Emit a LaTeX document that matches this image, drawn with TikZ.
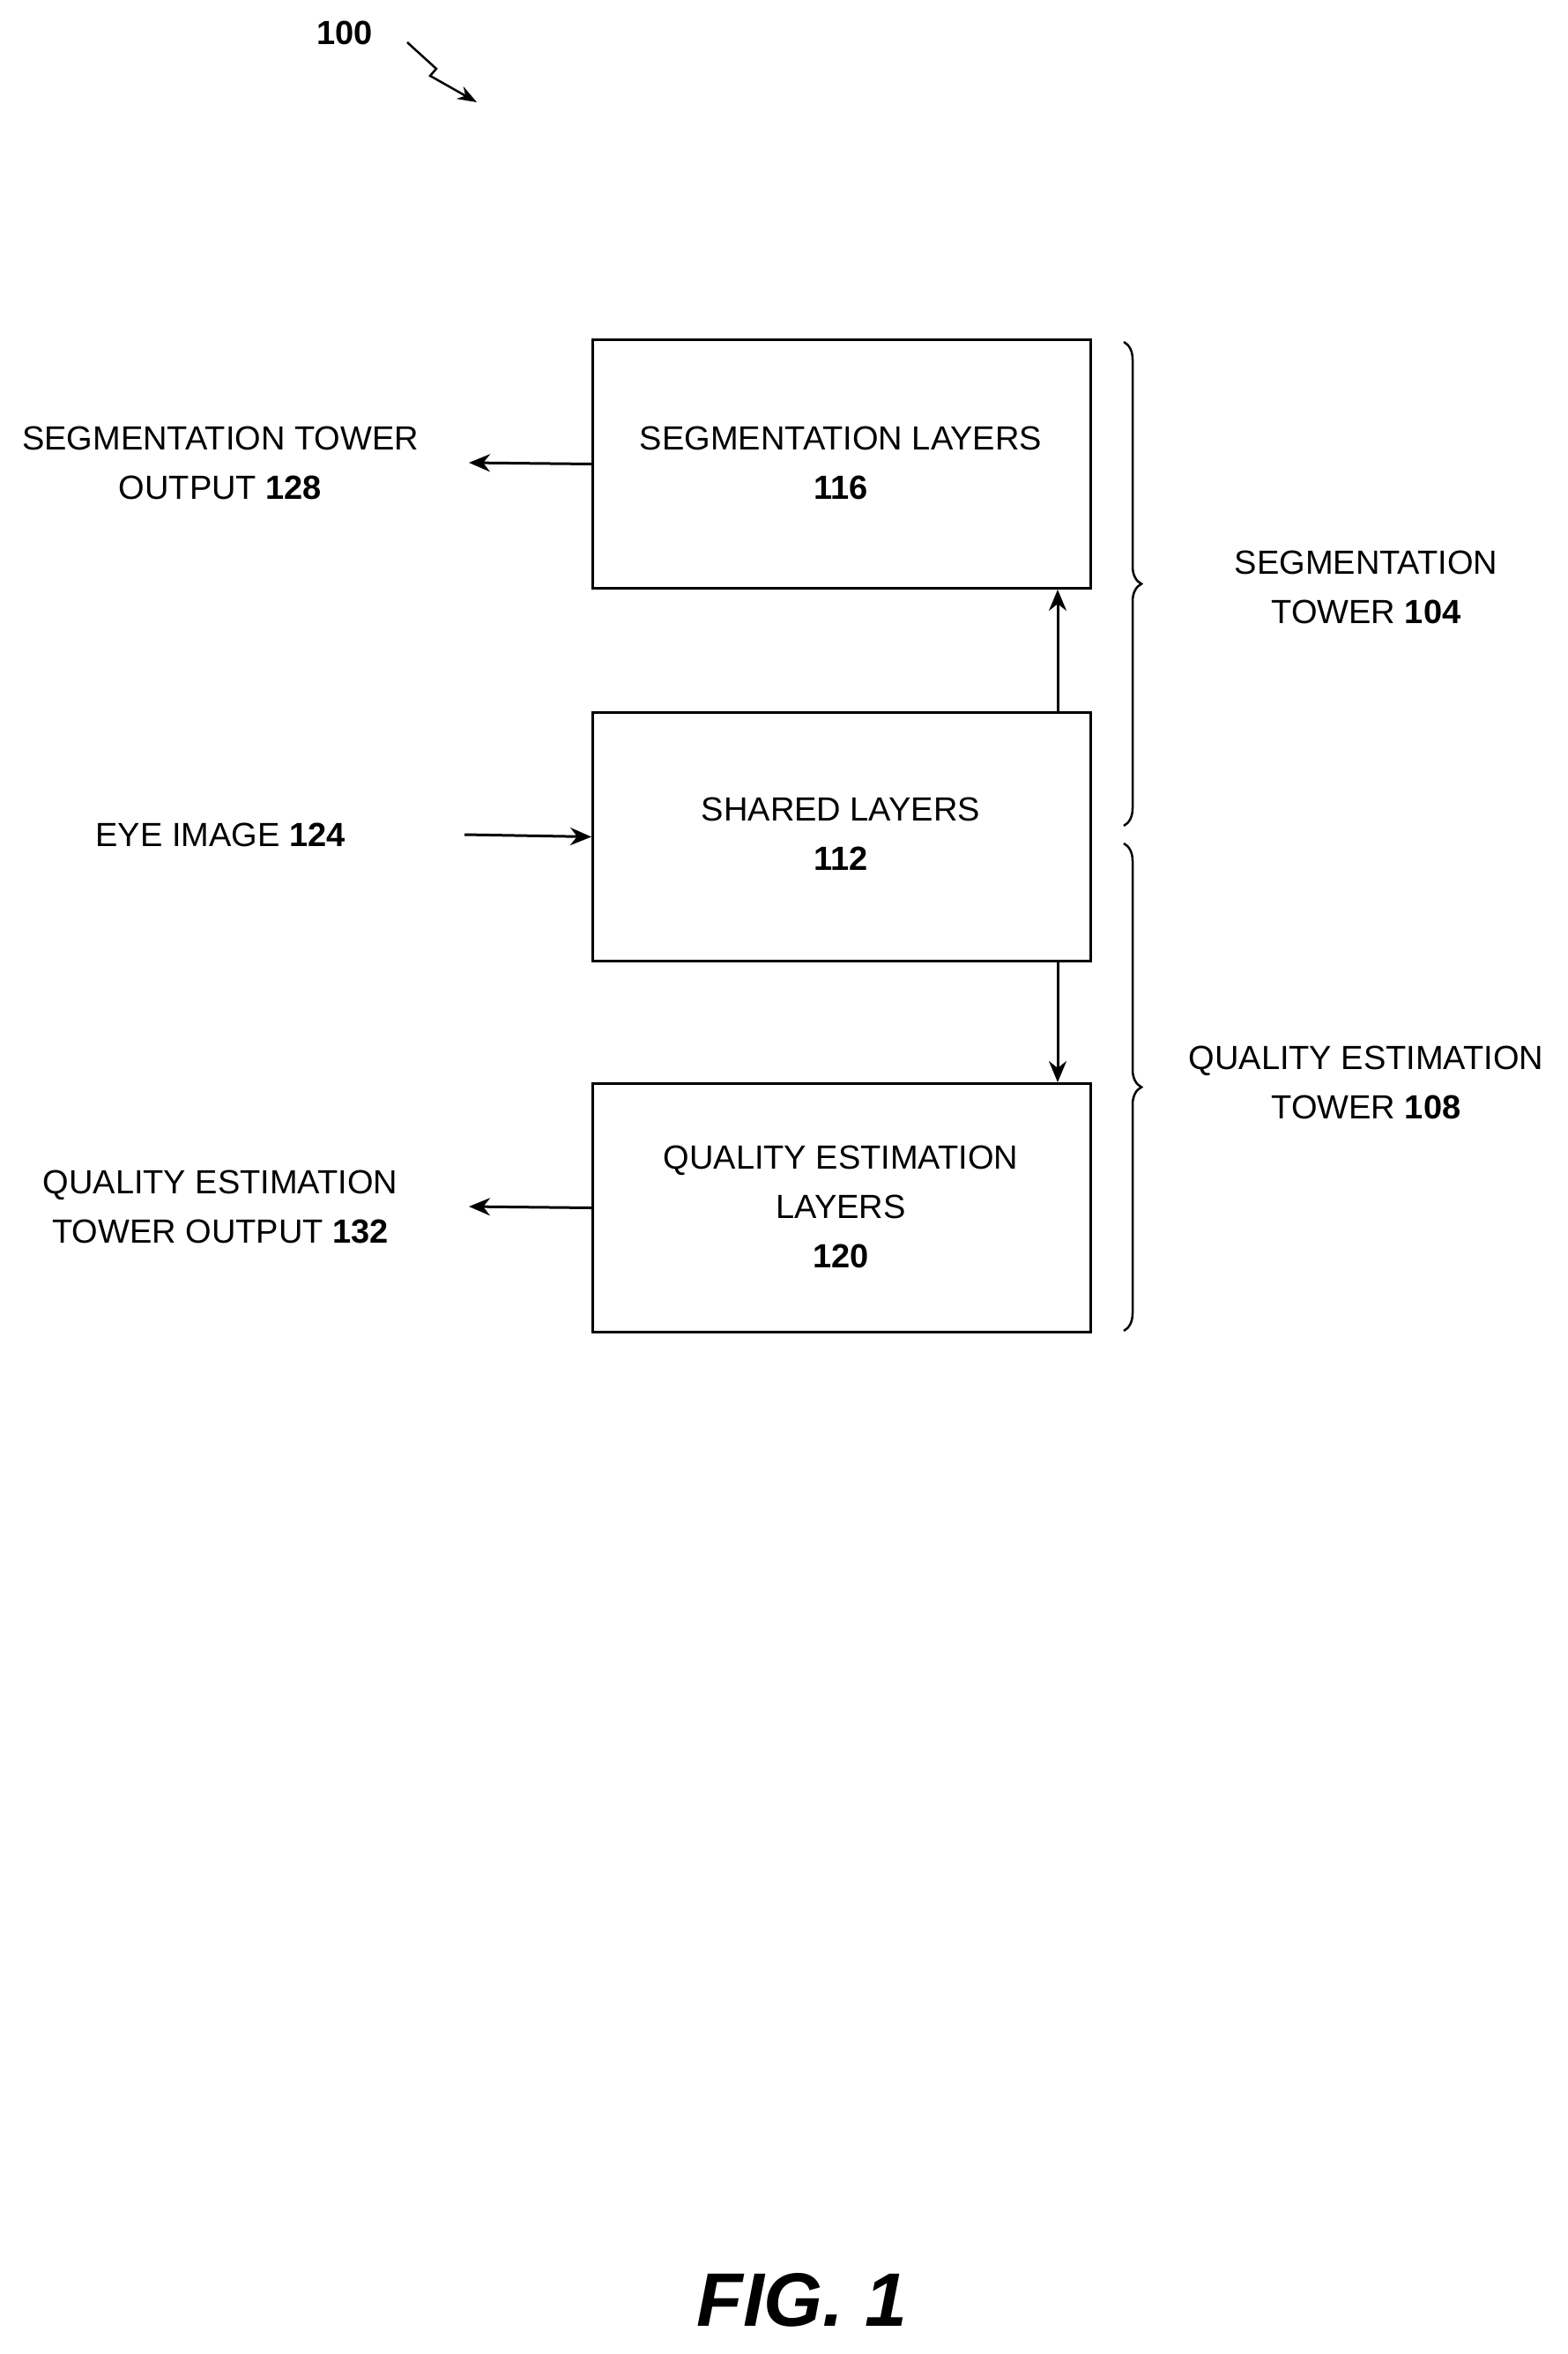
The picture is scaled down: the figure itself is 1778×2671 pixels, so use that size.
\documentclass[tikz,border=0pt]{standalone}
\usepackage{fontspec}
\setmainfont{Liberation Sans}
\usetikzlibrary{decorations.pathreplacing,arrows.meta}
\begin{document}
\begin{tikzpicture}[x=1pt,y=-1pt,
  box/.style={draw,line width=3pt,minimum width=565pt,minimum height=282pt,anchor=north west},
  lbl/.style={align=center,font=\fontsize{38}{56}\selectfont},
  arr/.style={line width=3pt,-{Stealth[length=24pt,width=20pt]}},
  br/.style={decorate,decoration={brace,amplitude=20pt},line width=2.5pt}]
\useasboundingbox (0,0) rectangle (1778,2671);
\node[box] (seg) at (671,384) {};
\node[box] (sh) at (671,807) {};
\node[box] (qe) at (671,1228) {};
\node[lbl] (segt) at (954,525) {SEGMENTATION LAYERS\\\textbf{116}};
\node[lbl] (sht) at (954,946) {SHARED LAYERS\\\textbf{112}};
\node[lbl] (qet) at (954,1369) {QUALITY ESTIMATION\\LAYERS\\\textbf{120}};
\node[lbl] (so) at (250,525) {SEGMENTATION TOWER\\OUTPUT \textbf{128}};
\node[lbl] (ei) at (250,947) {EYE IMAGE \textbf{124}};
\node[lbl] (qo) at (250,1369) {QUALITY ESTIMATION\\TOWER OUTPUT \textbf{132}};
\node[lbl] (st) at (1550,666) {SEGMENTATION\\TOWER \textbf{104}};
\node[lbl] (qt) at (1550,1228) {QUALITY ESTIMATION\\TOWER \textbf{108}};
\node[lbl,font=\bfseries\fontsize{38}{46}\selectfont] (n100) at (391,37) {100};
\node[font=\bfseries\itshape\fontsize{86}{100}\selectfont] (fig) at (910,2610) {FIG. 1};
\coordinate (so1) at (532,525); \coordinate (qo1) at (532,1369); \coordinate (ei1) at (527,947);
\draw[arr] (seg.west) -- (so1);
\draw[arr] (qe.west) -- (qo1);
\draw[arr] (ei1) -- (sh.west);
\draw[arr] (sh.north east -| 1200,0) -- (seg.south east -| 1200,0);
\draw[arr] (sh.south east -| 1200,0) -- (qe.north east -| 1200,0);
\coordinate (b1) at (1275,388); \coordinate (b2) at (1275,937);
\coordinate (b3) at (1275,957); \coordinate (b4) at (1275,1510);
\draw[br] (b1) -- (b2);
\draw[br] (b3) -- (b4);
\coordinate (z1) at (462,48); \coordinate (z2) at (541,116);
\draw[line width=2.5pt,-{Stealth[length=22pt,width=16pt]}] (z1) -- (495,78) -- (488,86) -- (z2);
\end{tikzpicture}
\end{document}
